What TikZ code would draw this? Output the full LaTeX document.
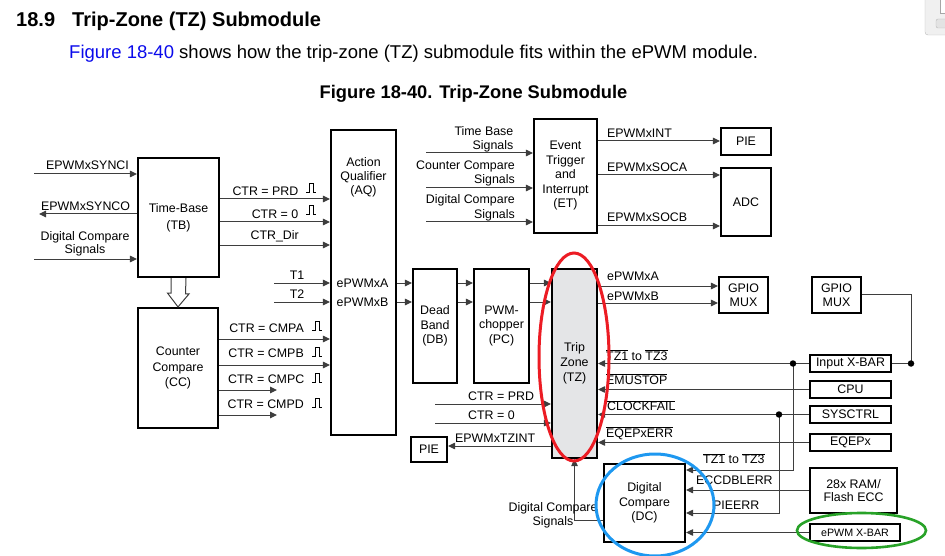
\documentclass[tikz,border=0pt]{standalone}
\usepackage{fontspec}
\setmainfont{Liberation Sans}
\usetikzlibrary{arrows.meta}
\definecolor{wirecol}{RGB}{62,62,62}
\definecolor{tzgray}{RGB}{228,229,231}
\definecolor{linkblue}{RGB}{10,10,235}
\definecolor{redring}{RGB}{236,28,36}
\definecolor{bluering}{RGB}{30,152,240}
\definecolor{greenring}{RGB}{40,162,40}
\newcommand{\dfont}{\fontsize{12.4}{14.5}\selectfont}
\newcommand{\ovl}[1]{$\overline{\mbox{#1}}$}
\newcommand{\pulsemark}[1]{\draw[pulse] (#1) -- ++(3,0) -- ++(0,-9) -- ++(4,0) -- ++(0,9) -- ++(3,0);}
\tikzset{
    every node/.style={inner sep=0pt},
    blk/.style={draw,line width=2.5pt,align=center,font=\dfont},
    lbl/.style={font=\dfont,anchor=base west},
    lblr/.style={font=\dfont,anchor=base east},
    ml/.style={font=\dfont,align=center},
    directed/.style={draw=wirecol,line width=1pt,arrows={-Triangle[length=7pt,width=6.5pt]}},
    link/.style={draw=wirecol,line width=1pt},
    hollow/.style={draw=wirecol,line width=1pt,fill=white},
    dot/.style={circle,fill=black,minimum size=6.5pt},
    pulse/.style={line width=0.7pt},
    ring/.style={line width=3pt},
    }
\begin{document}
\begin{tikzpicture}[x=1pt,y=-1pt]
    \useasboundingbox (0,0) rectangle (945,556);

    \node[anchor=base west,font=\fontsize{20}{24}\selectfont\bfseries] (secnum) at (16,27) {18.9};
    \node[anchor=base west,font=\fontsize{20}{24}\selectfont\bfseries] (sectitle) at (72,27) {Trip-Zone (TZ) Submodule};
    \node[anchor=base west,font=\fontsize{18.5}{22}\selectfont] (intro) at (69,59) {\textcolor{linkblue}{Figure 18-40} shows how the trip-zone (TZ) submodule fits within the ePWM module.};
    \node[anchor=base,font=\fontsize{18.3}{22}\selectfont\bfseries] (caption) at (473.5,98.5) {Figure 18-40. Trip-Zone Submodule};

    \node[blk,minimum width=80.6,minimum height=118.6,font=\fontsize{12.4}{17}\selectfont] (tb) at (178.5,217.5) {Time-Base\\(TB)};
    \node[blk,minimum width=64.6,minimum height=304.6] (aq) at (363.5,282.5) {};
    \node[ml,font=\fontsize{12.4}{14}\selectfont] (aqtxt) at (363.5,177.5) {Action\\Qualifier\\(AQ)};
    \node[blk,minimum width=79.6,minimum height=119.6,font=\fontsize{12.4}{15.5}\selectfont] (cc) at (178,368) {Counter\\Compare\\(CC)};
    \node[blk,minimum width=62.6,minimum height=113.6] (et) at (565.5,176) {Event\\Trigger\\and\\Interrupt\\(ET)};
    \node[blk,minimum width=49.6,minimum height=26.6] (pie) at (746,141.5) {PIE};
    \node[blk,minimum width=49.6,minimum height=67.6] (adc) at (746,202) {ADC};
    \node[blk,minimum width=43.6,minimum height=113.6] (db) at (435,326) {Dead\\Band\\(DB)};
    \node[blk,minimum width=54.6,minimum height=113.6] (pc) at (501.5,326) {PWM-\\chopper\\(PC)};
    \node[blk,fill=tzgray,minimum width=44.6,minimum height=188.6,font=\fontsize{12.4}{15}\selectfont] (tz) at (574.5,363.5) {Trip\\Zone\\(TZ)};
    \node[blk,minimum width=48.6,minimum height=35.6] (gpio) at (743.5,295) {GPIO\\MUX};
    \node[blk,minimum width=48.6,minimum height=35.6] (gpioin) at (836.5,295) {GPIO\\MUX};
    \node[blk,minimum width=80.6,minimum height=16.6] (ixbar) at (850.5,363.5) {Input X-BAR};
    \node[blk,minimum width=80.6,minimum height=16.6] (cpu) at (850.5,389.5) {CPU};
    \node[blk,minimum width=80.6,minimum height=16.6] (sysctrl) at (850.5,414.5) {SYSCTRL};
    \node[blk,minimum width=80.6,minimum height=16.6] (eqep) at (850.5,442.5) {EQEPx};
    \node[blk,minimum width=86.6,minimum height=44.6,font=\fontsize{12.4}{13.5}\selectfont] (ram) at (853.5,490.5) {28x RAM/\\Flash ECC};
    \node[blk,minimum width=89.6,minimum height=16.6,font=\fontsize{10.7}{12}\selectfont] (exbar) at (855,532.5) {ePWM X-BAR};
    \node[blk,minimum width=80.6,minimum height=77.6] (dc) at (644.5,503) {Digital\\Compare\\(DC)};
    \node[blk,minimum width=35.6,minimum height=24.6] (tzpie) at (429,449.5) {PIE};

    \coordinate (synci) at (34,174);
    \coordinate (synco) at (39,214);
    \coordinate (dcin) at (34,259);
    \draw[directed] (synci) -- (tb.west |- synci);
    \draw[directed] (tb.west |- synco) -- (synco);
    \draw[directed] (dcin) -- (tb.west |- dcin);
    \node[lbl] (lsynci) at (46,169.4) {EPWMxSYNCI};
    \node[lbl] (lsynco) at (41,210.4) {EPWMxSYNCO};
    \node[ml,font=\fontsize{12.4}{13}\selectfont] (ldcin) at (85,244) {Digital Compare\\Signals};

    \draw[directed] (tb.east |- 0,199) -- (aq.west |- 0,199);
    \draw[directed] (tb.east |- 0,222) -- (aq.west |- 0,222);
    \draw[directed] (tb.east |- 0,245) -- (aq.west |- 0,245);
    \node[lblr] (lprd) at (298.5,195.4) {CTR = PRD};
    \node[lblr] (lzero) at (298.5,218.4) {CTR = 0};
    \node[lblr] (ldir) at (299,239.4) {CTR\_Dir};
    \pulsemark{306,192}
    \pulsemark{306,214}

    \draw[hollow] ([xshift=-7.5pt]tb.south) -- ++(0,15) -- ++(-3.5,0) -- (cc.north) -- ++(11,-13) -- ++(-3.5,0) -- ([xshift=7.5pt]tb.south);

    \coordinate (t1) at (274,283);
    \coordinate (t2) at (274,302);
    \draw[directed] (t1) -- (aq.west |- t1);
    \draw[directed] (t2) -- (aq.west |- t2);
    \node[font=\dfont,anchor=base] (lt1) at (297,279.4) {T1};
    \node[font=\dfont,anchor=base] (lt2) at (297,298.9) {T2};
    \node[font=\dfont,anchor=base] (aqa) at (362.5,287.4) {ePWMxA};
    \node[font=\dfont,anchor=base] (aqb) at (362.5,306.4) {ePWMxB};

    \coordinate (cmpc) at (277,390);
    \coordinate (cmpd) at (277,415);
    \draw[directed] (cc.east |- 0,339) -- (aq.west |- 0,339);
    \draw[directed] (cc.east |- 0,365) -- (aq.west |- 0,365);
    \draw[directed] (cc.east |- cmpc) -- (cmpc);
    \draw[directed] (cc.east |- cmpd) -- (cmpd);
    \node[lblr] (lcmpa) at (304,332.4) {CTR = CMPA};
    \node[lblr] (lcmpb) at (304,357.4) {CTR = CMPB};
    \node[lblr] (lcmpc) at (304.5,383.9) {CTR = CMPC};
    \node[lblr] (lcmpd) at (304,408.9) {CTR = CMPD};
    \pulsemark{312,330}
    \pulsemark{312,356}
    \pulsemark{312,382}
    \pulsemark{312,407}

    \foreach \yy in {283,302} {
        \draw[directed] (aq.east |- 0,\yy) -- (db.west |- 0,\yy);
        \draw[directed] (db.east |- 0,\yy) -- (pc.west |- 0,\yy);
        \draw[directed] (pc.east |- 0,\yy) -- (tz.west |- 0,\yy);
    }
    \draw[directed] (tz.east |- 0,286) -- (gpio.west |- 0,286);
    \draw[directed] (tz.east |- 0,303) -- (gpio.west |- 0,303);
    \node[lbl] (lpa) at (607,280.9) {ePWMxA};
    \node[lbl] (lpb) at (607,300.4) {ePWMxB};

    \coordinate (tbs) at (426,153);
    \coordinate (ccs) at (426,188);
    \coordinate (dcs) at (426,222);
    \draw[directed] (tbs) -- (et.west |- tbs);
    \draw[directed] (ccs) -- (et.west |- ccs);
    \draw[directed] (dcs) -- (et.west |- dcs);
    \node[font=\fontsize{12.4}{14}\selectfont,align=right,anchor=east] (ltbs) at (513.5,139.5) {Time Base\\Signals};
    \node[font=\fontsize{12.4}{14}\selectfont,align=right,anchor=east] (lccs) at (515,173.5) {Counter Compare\\Signals};
    \node[font=\fontsize{12.4}{15}\selectfont,align=right,anchor=east] (ldcs) at (515,208) {Digital Compare\\Signals};

    \draw[directed] (et.east |- 0,141) -- (pie.west |- 0,141);
    \draw[directed] (et.east |- 0,175) -- (adc.west |- 0,175);
    \draw[directed] (et.east |- 0,226) -- (adc.west |- 0,226);
    \node[lbl] (lint) at (607,137.4) {EPWMxINT};
    \node[lbl] (lsoca) at (607,171.4) {EPWMxSOCA};
    \node[lbl] (lsocb) at (607,221.4) {EPWMxSOCB};

    \coordinate (jr) at (911,363.5);
    \coordinate (jl) at (793,363.5);
    \coordinate (js) at (779,414.5);
    \draw[link] (gpioin.east |- 0,294) -| (jr) -- (ixbar.east);
    \draw[directed] (ixbar.west) -- (tz.east |- ixbar.west);
    \draw[directed] (cpu.west) -- (tz.east |- cpu.west);
    \draw[directed] (sysctrl.west) -- (tz.east |- sysctrl.west);
    \draw[directed] (eqep.west) -- (tz.east |- eqep.west);
    \draw[directed] (jl) |- (dc.east |- 0,470);
    \draw[directed] (js) |- (dc.east |- 0,513);
    \draw[directed] (ram.west |- 0,490) -- (dc.east |- 0,490);
    \draw[directed] (exbar.west) -- (dc.east |- exbar.west);
    \node[dot] (djr) at (jr) {};
    \node[dot] (djl) at (jl) {};
    \node[dot] (djs) at (js) {};
    \node[lbl] (ltz) at (606,360.4) {\ovl{TZ1} to \ovl{TZ3}};
    \node[lbl] (lemu) at (606,384.4) {\ovl{EMUSTOP}};
    \node[lbl] (lclk) at (607,410.9) {\ovl{CLOCKFAIL}};
    \node[lbl] (leqep) at (606,437.4) {\ovl{EQEPxERR}};
    \node[lbl] (ldctz) at (703,463.9) {\ovl{TZ1} to \ovl{TZ3}};
    \node[lbl] (lecc) at (696,484.4) {ECCDBLERR};
    \node[lbl] (lpie) at (713,509.4) {PIEERR};

    \coordinate (lprd2) at (435,404);
    \coordinate (lzero2) at (435,423);
    \draw[directed] (lprd2) -- (tz.west |- lprd2);
    \draw[directed] (lzero2) -- (tz.west |- lzero2);
    \draw[directed] (tz.west |- 0,446) -- (tzpie.east |- 0,446);
    \node[lbl] (lprdb) at (468,400.9) {CTR = PRD};
    \node[lbl] (lzerob) at (468,419.9) {CTR = 0};
    \node[lbl] (ltzint) at (455,442.4) {EPWMxTZINT};

    \draw[directed] (dc.west |- 0,520) -| (tz.south);
    \node[ml,font=\fontsize{12.4}{14}\selectfont] (ldcsig) at (553,515.5) {Digital Compare\\Signals};

    \draw[ring,draw=redring] (574,357) ellipse [x radius=35,y radius=104];
    \draw[ring,draw=bluering] (655,505) ellipse [x radius=59,y radius=51];
    \draw[line width=2.6pt,draw=greenring] (861.5,530.5) ellipse [x radius=64.5,y radius=17.5];

    \draw[gray!55,fill=gray!12,rounded corners=3pt] (925,-6) rectangle (960,35);
    \draw[gray!70,fill=white] (940,-4) rectangle (960,13);
    \draw[gray!55,fill=gray!22,rounded corners=2pt] (936,19) rectangle (960,28);
\end{tikzpicture}
\end{document}
